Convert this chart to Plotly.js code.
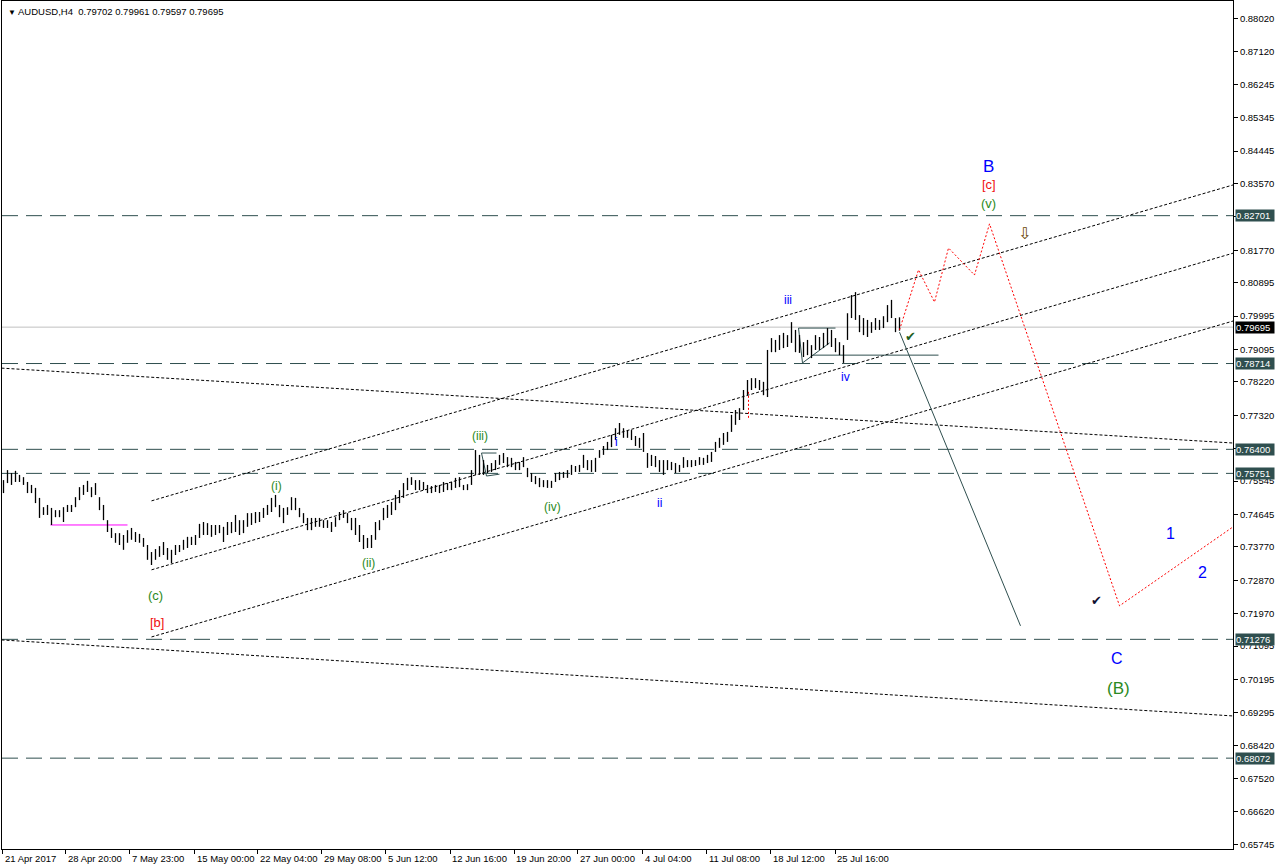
<!DOCTYPE html>
<html><head><meta charset="utf-8">
<script src="https://cdn.plot.ly/plotly-3.0.1.min.js"></script>
<style>html,body{margin:0;padding:0;background:#fff;overflow:hidden}#chart{width:1276px;height:868px}</style>
</head><body><div id="chart"></div>
<script>
const barHigh = [
0.7557,0.7584,0.7576,0.7582,0.7571,0.7565,0.7552,0.7544,0.7536,0.7509,
0.7484,0.7490,0.7482,0.7476,0.7476,0.7484,0.7490,0.7490,0.7511,0.7538,
0.7544,0.7555,0.7538,0.7549,0.7511,0.7490,0.7449,0.7428,0.7414,0.7414,
0.7409,0.7422,0.7428,0.7417,0.7412,0.7401,0.7382,0.7363,0.7371,0.7379,
0.7390,0.7374,0.7369,0.7382,0.7382,0.7396,0.7404,0.7404,0.7409,0.7439,
0.7444,0.7441,0.7436,0.7436,0.7436,0.7431,0.7444,0.7444,0.7463,0.7449,
0.7449,0.7468,0.7468,0.7471,0.7471,0.7482,0.7490,0.7509,0.7517,0.7490,
0.7482,0.7484,0.7511,0.7509,0.7482,0.7468,0.7455,0.7455,0.7455,0.7455,
0.7449,0.7449,0.7444,0.7457,0.7471,0.7476,0.7468,0.7455,0.7455,0.7436,
0.7409,0.7401,0.7409,0.7444,0.7449,0.7482,0.7490,0.7498,0.7517,0.7530,
0.7549,0.7563,0.7565,0.7557,0.7557,0.7552,0.7544,0.7541,0.7544,0.7544,
0.7552,0.7549,0.7552,0.7563,0.7565,0.7544,0.7546,0.7584,0.7638,0.7625,
0.7611,0.7598,0.7603,0.7611,0.7625,0.7630,0.7619,0.7617,0.7606,0.7606,
0.7619,0.7590,0.7576,0.7568,0.7563,0.7557,0.7557,0.7555,0.7576,0.7579,
0.7579,0.7584,0.7598,0.7595,0.7598,0.7625,0.7611,0.7611,0.7617,0.7638,
0.7649,0.7660,0.7679,0.7697,0.7711,0.7697,0.7692,0.7692,0.7676,0.7671,
0.7684,0.7630,0.7625,0.7622,0.7611,0.7611,0.7611,0.7606,0.7603,0.7598,
0.7619,0.7611,0.7611,0.7611,0.7619,0.7617,0.7625,0.7633,0.7660,0.7671,
0.7684,0.7687,0.7733,0.7746,0.7751,0.7800,0.7827,0.7832,0.7832,0.7827,
0.7822,0.7908,0.7940,0.7935,0.7948,0.7954,0.7948,0.7983,0.7962,0.7948,
0.7929,0.7935,0.7921,0.7948,0.7943,0.7954,0.7967,0.7962,0.7940,0.7929,
0.7921,0.8007,0.8056,0.8064,0.8002,0.7994,0.7989,0.7983,0.7994,0.7989,
0.7999,0.8029,0.8043,0.7994,0.7996];
const barLow = [
0.7522,0.7549,0.7544,0.7552,0.7552,0.7544,0.7522,0.7522,0.7495,0.7455,
0.7463,0.7463,0.7436,0.7457,0.7457,0.7444,0.7471,0.7471,0.7484,0.7503,
0.7517,0.7525,0.7511,0.7517,0.7476,0.7449,0.7417,0.7401,0.7388,0.7382,
0.7369,0.7388,0.7396,0.7390,0.7388,0.7377,0.7342,0.7328,0.7342,0.7350,
0.7355,0.7342,0.7333,0.7355,0.7363,0.7369,0.7374,0.7382,0.7382,0.7401,
0.7409,0.7409,0.7404,0.7409,0.7414,0.7390,0.7409,0.7414,0.7417,0.7409,
0.7414,0.7431,0.7436,0.7441,0.7444,0.7455,0.7463,0.7471,0.7484,0.7457,
0.7441,0.7463,0.7476,0.7476,0.7457,0.7441,0.7422,0.7422,0.7431,0.7431,
0.7428,0.7428,0.7417,0.7431,0.7449,0.7455,0.7441,0.7422,0.7409,0.7390,
0.7371,0.7374,0.7374,0.7396,0.7422,0.7449,0.7455,0.7463,0.7476,0.7495,
0.7509,0.7530,0.7544,0.7530,0.7530,0.7530,0.7522,0.7522,0.7525,0.7522,
0.7525,0.7530,0.7530,0.7536,0.7538,0.7530,0.7530,0.7544,0.7571,0.7571,
0.7571,0.7576,0.7579,0.7584,0.7598,0.7603,0.7592,0.7592,0.7584,0.7584,
0.7592,0.7565,0.7552,0.7546,0.7538,0.7538,0.7536,0.7536,0.7552,0.7557,
0.7563,0.7563,0.7571,0.7579,0.7579,0.7590,0.7584,0.7579,0.7579,0.7617,
0.7625,0.7638,0.7646,0.7665,0.7679,0.7671,0.7671,0.7665,0.7649,0.7644,
0.7633,0.7590,0.7595,0.7592,0.7579,0.7571,0.7584,0.7584,0.7576,0.7579,
0.7590,0.7592,0.7592,0.7595,0.7598,0.7598,0.7603,0.7606,0.7633,0.7644,
0.7652,0.7660,0.7687,0.7706,0.7719,0.7746,0.7786,0.7800,0.7805,0.7800,
0.7786,0.7781,0.7902,0.7902,0.7908,0.7913,0.7916,0.7927,0.7902,0.7900,
0.7889,0.7894,0.7886,0.7908,0.7908,0.7913,0.7921,0.7916,0.7902,0.7894,
0.7873,0.7935,0.7994,0.7989,0.7956,0.7948,0.7943,0.7954,0.7962,0.7962,
0.7967,0.7983,0.7994,0.7956,0.7960];

const dateLabels = ['21 Apr 2017','28 Apr 20:00','7 May 23:00','15 May 00:00','22 May 04:00','29 May 08:00','5 Jun 12:00','12 Jun 16:00','19 Jun 20:00','27 Jun 00:00','4 Jul 04:00','11 Jul 08:00','18 Jul 12:00','25 Jul 16:00'];
const dateTickPos = [-0.18,15.6,31.5,47.75,63.5,79.5,95.6,111.65,127.7,143.6,159.8,175.75,191.8,207.9];
const priceTicks = [0.88020,0.87120,0.86245,0.85345,0.84445,0.83570,0.82670,0.81770,0.80895,0.79995,0.79095,0.78220,0.77320,0.76420,0.75545,0.74645,0.73770,0.72870,0.71970,0.71095,0.70195,0.69295,0.68420,0.67520,0.66620,0.65745];
const hiddenTicks = [0.82670,0.76420];   // covered by level boxes in the reference
const levelPrices = [0.82701,0.78714,0.76400,0.75751,0.71276,0.68072];
const lastPrice = 0.79695;
const headerSymbol = 'AUDUSD,H4';
const headerOHLC = [0.79702,0.79961,0.79597,0.79695];

// drawn analysis objects (bar index, price)
const channelX = [37, 307.4];
const channelTop = [0.7501, 0.8353];
const channelMid = [0.7315, 0.8169];
const channelLow = [0.7134, 0.7986];
const fanX = [-0.5, 307.4];
const fanUpper = [0.7859, 0.7657];
const fanLower = [0.7126, 0.6921];
const forecastX = [224, 228.75, 232.75, 236.25, 242.75, 246.5, 279, 307.4];
const forecastY = [0.7962, 0.8124, 0.8037, 0.8183, 0.8110, 0.8248, 0.7218, 0.7431];
const trendX = [224, 254.25];
const trendY = [0.7956, 0.7164];
const supportX = [202.25, 233.75];
const supportY = [0.7894, 0.7894];
const boxIvX = [208, 198.75, 199.75, 206.5];
const boxIvY = [0.7967, 0.7967, 0.7873, 0.7927];
const boxIiiX = [123.25, 119.5, 120.75, 124];
const boxIiiY = [0.7630, 0.7630, 0.7568, 0.7573];
const magentaX = [11.75, 31];
const magentaY = [0.7436, 0.7436];
const redTickX = [186.25, 186.25];
const redTickY = [0.7795, 0.7724];

const waveText = ['B','[c]','(v)','iii','iv','i','ii','(iii)','(iv)','(i)','(ii)','(c)','[b]','1','2','C','(B)'];
const waveX = [246.25,246.25,246.25,196,210.5,153.25,164,119,137.25,68.25,91.25,38,38.25,291.75,299.75,278.25,278.75];
const waveY = [0.8404,0.8355,0.8302,0.8043,0.7835,0.7660,0.7495,0.7676,0.7484,0.7541,0.7333,0.7245,0.7174,0.7412,0.7309,0.7077,0.6994];
const markText = ['✔','✔','⇩'];
const markX = [226.75, 273.25, 255.25];
const markY = [0.7943, 0.7231, 0.8221];

// ---- styles ----
const BLUE='#0000ff', GREEN='#2a8a22', RED='#f01010', SLATE='#2f4f4f';
const waveColor = {'B':BLUE,'[c]':RED,'(v)':GREEN,'iii':BLUE,'iv':BLUE,'i':BLUE,'ii':BLUE,'(iii)':GREEN,'(iv)':GREEN,'(i)':GREEN,'(ii)':GREEN,'(c)':GREEN,'[b]':RED,'1':BLUE,'2':BLUE,'C':BLUE,'(B)':GREEN};
const waveSize = {'B':17,'[c]':13,'(v)':13,'iii':12,'iv':12,'i':12,'ii':12,'(iii)':12,'(iv)':12,'(i)':12,'(ii)':12,'(c)':13,'[b]':13,'1':16,'2':16,'C':16,'(B)':17};
const markColor = ['#1f5f1f','#101030','#6a4400'];
const markSize = [13,13,16];
const FONT = 'Liberation Sans, Arial, sans-serif';

// bars as vertical segments
const bx=[], by=[];
for (let i=0;i<barHigh.length;i++){ bx.push(i,i,null); by.push(barLow[i],barHigh[i],null); }

function line(x,y,color,dash,width){
  return {type:'scatter',mode:'lines',x:x,y:y,hoverinfo:'skip',showlegend:false,
    line:{color:color,dash:dash||'solid',width:width||1}};
}
const traces = [
  line(fanX,fanUpper,'#000','3px,2px'),
  line(fanX,fanLower,'#000','3px,2px'),
  line(channelX,channelTop,'#000','3px,2px'),
  line(channelX,channelMid,'#000','3px,2px'),
  line(channelX,channelLow,'#000','3px,2px'),
  line(magentaX,magentaY,'#ff00ff'),
  line(boxIiiX,boxIiiY,SLATE),
  line(boxIvX,boxIvY,SLATE),
  line(supportX,supportY,SLATE),
  line(trendX,trendY,SLATE),
  line(redTickX,redTickY,'#ff0000','2px,2px'),
  {type:'scatter',mode:'lines',x:bx,y:by,connectgaps:false,hoverinfo:'skip',showlegend:false,line:{color:'#000',width:1.3}},
  line(forecastX,forecastY,'#ff0000','2px,2px')
];

const xMin = -0.375, xMax = -0.375 + 1231/4;
const yMin = 0.65622, yMax = 0.88490;

const shapes = [];
shapes.push({type:'line',xref:'paper',x0:0,x1:1,yref:'y',y0:lastPrice,y1:lastPrice,line:{color:'#c0c0c0',width:1},layer:'below'});
levelPrices.forEach(p=>shapes.push({type:'line',xref:'paper',x0:0,x1:1,yref:'y',y0:p,y1:p,line:{color:SLATE,width:1,dash:'16px,8px'},layer:'below'}));

const ann = [];
waveText.forEach((t,i)=>ann.push({x:waveX[i],y:waveY[i],xref:'x',yref:'y',text:t,showarrow:false,
  font:{family:FONT,size:waveSize[t],color:waveColor[t]}}));
markText.forEach((t,i)=>ann.push({x:markX[i],y:markY[i],xref:'x',yref:'y',text:t,showarrow:false,
  font:{family:'DejaVu Sans',size:markSize[i],color:markColor[i]}}));
dateLabels.forEach((t,i)=>ann.push({x:dateTickPos[i],y:0,xref:'x',yref:'paper',xanchor:'left',yanchor:'top',yshift:-2,xshift:0,
  text:t,showarrow:false,font:{family:FONT,size:9.5,color:'#000'}}));
levelPrices.forEach(p=>ann.push({x:1,y:p,xref:'paper',yref:'y',xanchor:'left',yanchor:'middle',xshift:2,
  text:p.toFixed(5),showarrow:false,bgcolor:SLATE,width:38,height:11,align:'left',borderpad:0,
  font:{family:FONT,size:9.5,color:'#fff'}}));
ann.push({x:1,y:lastPrice,xref:'paper',yref:'y',xanchor:'left',yanchor:'middle',xshift:2,
  text:lastPrice.toFixed(5),showarrow:false,bgcolor:'#000',width:38,height:11,align:'left',borderpad:0,
  font:{family:FONT,size:9.5,color:'#fff'}});
ann.push({x:0,y:1,xref:'paper',yref:'paper',xanchor:'left',yanchor:'top',xshift:4,yshift:-3,showarrow:false,
  text:'<span style="font-size:8px">▼</span> '+headerSymbol+'  '+headerOHLC.map(v=>v.toFixed(5)).join(' '),
  font:{family:FONT,size:9.5,color:'#000'}});

const layout = {
  width:1276,height:868,paper_bgcolor:'#fff',plot_bgcolor:'#fff',
  margin:{l:2,r:43,t:1,b:19},showlegend:false,
  xaxis:{range:[xMin,xMax],tickmode:'array',tickvals:dateTickPos,showticklabels:false,ticks:'outside',ticklen:4,tickcolor:'#000',
    showgrid:false,zeroline:false,showline:true,mirror:true,linecolor:'#000',linewidth:1,fixedrange:true},
  yaxis:{range:[yMin,yMax],side:'right',tickmode:'array',tickvals:priceTicks,
    ticktext:priceTicks.map(v=>hiddenTicks.includes(v)?'':v.toFixed(5)),
    ticks:'outside',ticklen:4,tickcolor:'#000',tickfont:{family:FONT,size:9.5,color:'#000'},
    showgrid:false,zeroline:false,showline:true,mirror:true,linecolor:'#000',linewidth:1,fixedrange:true},
  shapes:shapes,annotations:ann
};
Plotly.newPlot('chart',traces,layout,{staticPlot:true,displayModeBar:false});
</script></body></html>
